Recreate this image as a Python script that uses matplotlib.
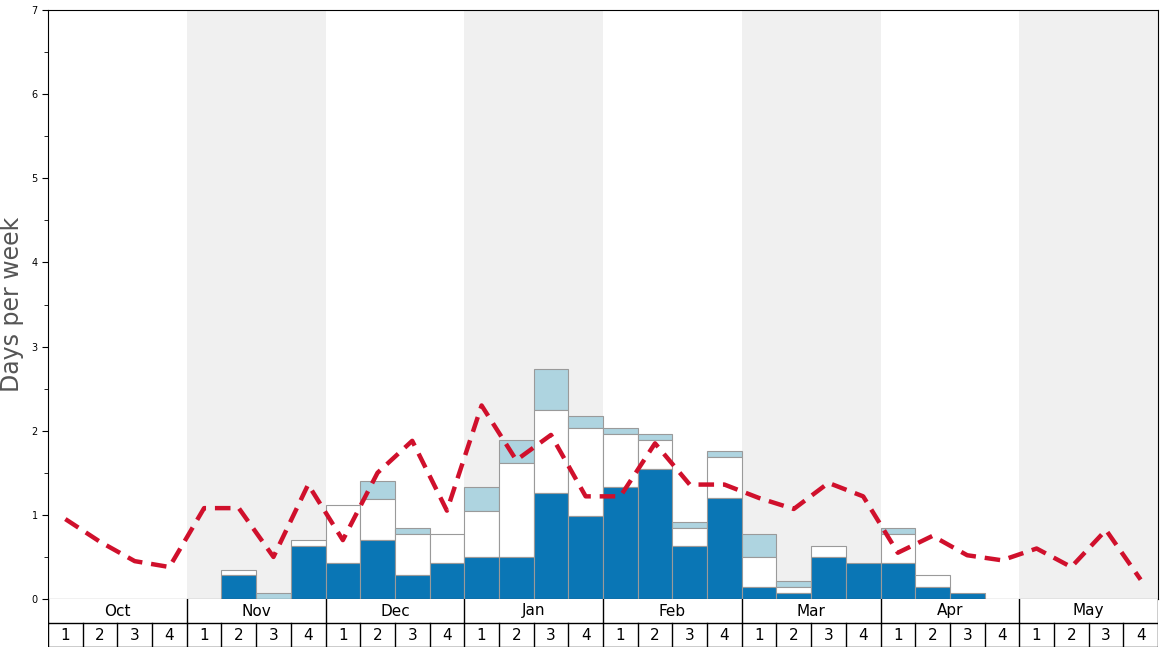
import matplotlib
matplotlib.use("Agg")
import matplotlib.pyplot as plt
from matplotlib.ticker import MultipleLocator

months = ["Oct", "Nov", "Dec", "Jan", "Feb", "Mar", "Apr", "May"]
week_labels = ["1", "2", "3", "4"]
dark = [0, 0, 0, 0, 0, 0.28, 0, 0.63, 0.43, 0.70, 0.28, 0.43, 0.50, 0.50, 1.26, 0.99,
        1.33, 1.55, 0.63, 1.20, 0.14, 0.07, 0.50, 0.43, 0.43, 0.14, 0.07, 0, 0, 0, 0, 0]
white_top = [0, 0, 0, 0, 0, 0.35, 0, 0.70, 1.12, 1.19, 0.77, 0.77, 1.05, 1.62, 2.25, 2.03,
             1.96, 1.89, 0.84, 1.69, 0.50, 0.14, 0.63, 0.43, 0.77, 0.28, 0.07, 0, 0, 0, 0, 0]
light_top = [0, 0, 0, 0, 0, 0.35, 0.07, 0.70, 1.12, 1.40, 0.84, 0.77, 1.33, 1.89, 2.73, 2.17,
             2.03, 1.96, 0.92, 1.76, 0.77, 0.21, 0.63, 0.43, 0.84, 0.28, 0.07, 0, 0, 0, 0, 0]
avg = [0.95, 0.68, 0.45, 0.38, 1.08, 1.08, 0.50, 1.36, 0.70, 1.50, 1.88, 1.05, 2.30, 1.65, 1.95, 1.22,
       1.22, 1.85, 1.36, 1.36, 1.20, 1.07, 1.38, 1.22, 0.55, 0.75, 0.52, 0.46, 0.60, 0.38, 0.82, 0.23]

W, H = 1168, 648
fig = plt.figure(figsize=(W/100, H/100), dpi=100)
ax = fig.add_axes([48/W, (H-599)/H, 1110/W, 589/H])
n = len(dark)
x = [i + 0.5 for i in range(n)]
for m in range(len(months)):
    if m % 2 == 1:
        ax.axvspan(m*4, m*4+4, color="#f0f0f0", zorder=0, lw=0)
ec = "#9a9a9a"
for i in range(n):
    if light_top[i] > white_top[i]:
        ax.bar(x[i], light_top[i]-white_top[i], bottom=white_top[i], width=1, color="#aed4e0", edgecolor=ec, lw=0.8, zorder=2)
    if white_top[i] > dark[i]:
        ax.bar(x[i], white_top[i]-dark[i], bottom=dark[i], width=1, color="white", edgecolor=ec, lw=0.8, zorder=2)
    if dark[i] > 0:
        ax.bar(x[i], dark[i], width=1, color="#0a76b5", edgecolor=ec, lw=0.8, zorder=2)
ax.plot(x, avg, color="#d0102c", lw=3.2, ls=(0, (3.5, 2)), zorder=3)
ax.set_xlim(0, n)
ax.set_ylim(0, 7)
ax.set_xticks([])
ax.yaxis.set_major_locator(MultipleLocator(1))
ax.yaxis.set_minor_locator(MultipleLocator(0.5))
ax.tick_params(axis="y", labelsize=7, length=4)
ax.tick_params(axis="y", which="minor", length=3)
ax.set_ylabel("Days per week", fontsize=17, color="#555555")
ax.yaxis.set_label_coords(-0.022, 0.5)

bx = fig.add_axes([48/W, 1/H, 1110/W, 48/H])
bx.set_xlim(0, n); bx.set_ylim(0, 2)
bx.set_xticks([]); bx.set_yticks([])
for s in bx.spines.values():
    s.set_visible(False)
bx.axhline(1, color="black", lw=1)
bx.axhline(0, color="black", lw=1)
for m, name in enumerate(months):
    bx.plot([m*4, m*4], [1, 2], color="black", lw=1)
    bx.text(m*4+2, 1.5, name, ha="center", va="center", fontsize=11)
for i in range(n + 1):
    bx.plot([i, i], [0, 1], color="black", lw=1)
for i in range(n):
    bx.text(i+0.5, 0.5, week_labels[i % 4], ha="center", va="center", fontsize=11)
bx.plot([n, n], [1, 2], color="black", lw=1)
fig.savefig("out.png", dpi=100)
